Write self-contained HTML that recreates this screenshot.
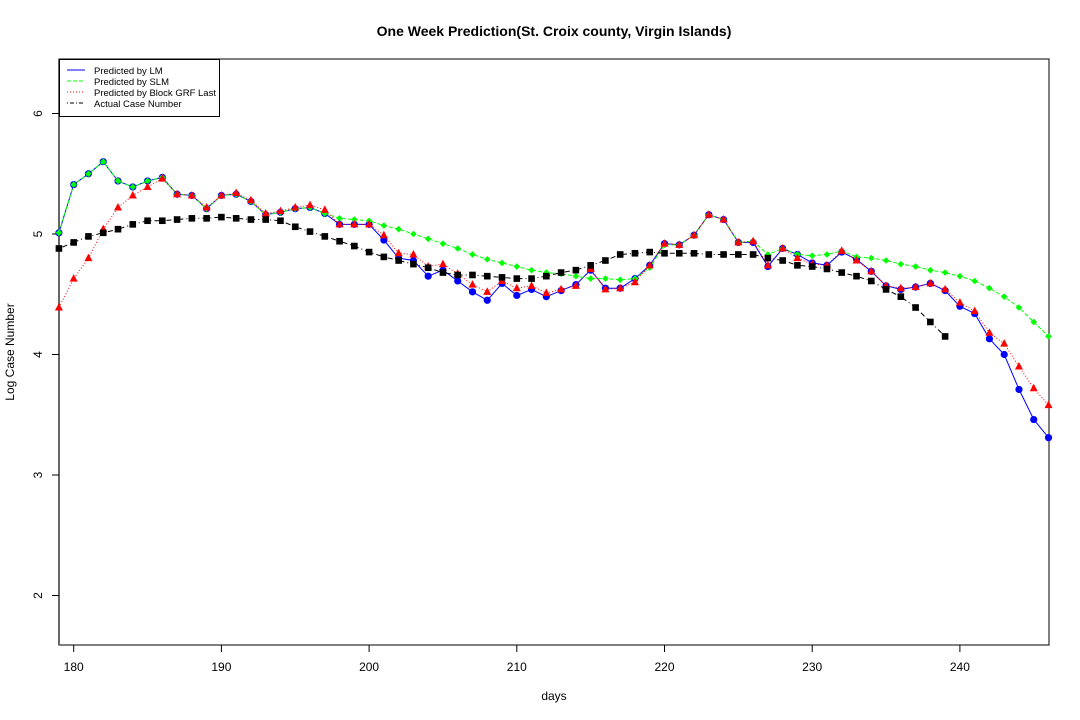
<!DOCTYPE html>
<html><head><meta charset="utf-8"><style>
body{margin:0;background:#fff}
svg{display:block;font-family:"Liberation Sans",sans-serif}
</style></head><body>
<svg id="chart" width="1080" height="720" viewBox="0 0 1080 720" xmlns="http://www.w3.org/2000/svg">
<rect width="1080" height="720" fill="#fff"/>
<text x="554" y="36" text-anchor="middle" font-size="14" font-weight="bold">One Week Prediction(St. Croix county, Virgin Islands)</text>
<text x="554" y="700" text-anchor="middle" font-size="12">days</text>
<text transform="translate(14,352) rotate(-90)" text-anchor="middle" font-size="12">Log Case Number</text>
<rect x="59" y="59" width="990" height="586" fill="none" stroke="#000" stroke-width="1"/>
<line x1="59" y1="59" x2="59" y2="645" stroke="#666" stroke-width="2"/>
<g id="axes"></g>
<g id="series"></g>
<g>
<rect x="59.5" y="59.5" width="160" height="57" fill="#fff" stroke="#000"/>
<line x1="67" y1="70" x2="85" y2="70" stroke="#0000ff"/>
<line x1="67" y1="81" x2="85" y2="81" stroke="#00ff00" stroke-dasharray="4,2"/>
<line x1="67" y1="92" x2="85" y2="92" stroke="#ff0000" stroke-dasharray="1,2"/>
<line x1="67" y1="103" x2="85" y2="103" stroke="#000" stroke-dasharray="1,2,4,2"/>
<text x="94" y="74" font-size="9.5">Predicted by LM</text>
<text x="94" y="85" font-size="9.5">Predicted by SLM</text>
<text x="94" y="96" font-size="9.5">Predicted by Block GRF Last</text>
<text x="94" y="107" font-size="9.5">Actual Case Number</text>
</g>
</svg>
<script>
const startDay = 179;
const xTicks = [180, 190, 200, 210, 220, 230, 240];
const yTicks = [2, 3, 4, 5, 6];
const lmValues = [5.01,5.41,5.50,5.60,5.44,5.39,5.44,5.47,5.33,5.32,5.21,5.32,5.33,5.27,5.16,5.18,5.21,5.22,5.17,5.08,5.08,5.08,4.95,4.80,4.78,4.65,4.70,4.61,4.52,4.45,4.59,4.49,4.54,4.48,4.53,4.58,4.70,4.55,4.55,4.63,4.74,4.92,4.91,4.99,5.16,5.12,4.93,4.93,4.73,4.88,4.83,4.76,4.74,4.85,4.79,4.69,4.57,4.54,4.56,4.59,4.53,4.40,4.34,4.13,4.00,3.71,3.46,3.31];
const slmValues = [5.01,5.41,5.50,5.60,5.44,5.39,5.44,5.47,5.33,5.32,5.21,5.32,5.33,5.27,5.16,5.18,5.21,5.22,5.17,5.13,5.12,5.11,5.07,5.04,5.00,4.96,4.92,4.88,4.83,4.79,4.76,4.73,4.70,4.68,4.67,4.65,4.63,4.63,4.62,4.63,4.72,4.91,4.91,4.99,5.16,5.12,4.93,4.94,4.83,4.88,4.83,4.82,4.83,4.86,4.81,4.80,4.78,4.75,4.73,4.70,4.68,4.65,4.61,4.55,4.48,4.39,4.27,4.15];
const grfValues = [4.39,4.63,4.80,5.04,5.22,5.32,5.39,5.46,5.33,5.32,5.22,5.32,5.34,5.28,5.17,5.19,5.22,5.24,5.20,5.08,5.08,5.08,4.99,4.84,4.83,4.73,4.75,4.67,4.58,4.52,4.61,4.55,4.57,4.51,4.54,4.57,4.71,4.54,4.55,4.60,4.74,4.92,4.91,4.99,5.16,5.12,4.93,4.94,4.74,4.88,4.80,4.75,4.74,4.86,4.78,4.69,4.57,4.55,4.56,4.59,4.54,4.43,4.36,4.18,4.09,3.90,3.72,3.58];
const actualValues = [4.88,4.93,4.98,5.01,5.04,5.08,5.11,5.11,5.12,5.13,5.13,5.14,5.13,5.12,5.12,5.11,5.06,5.02,4.98,4.94,4.90,4.85,4.81,4.78,4.75,4.72,4.68,4.66,4.66,4.65,4.64,4.63,4.63,4.65,4.68,4.70,4.74,4.78,4.83,4.84,4.85,4.84,4.84,4.84,4.83,4.83,4.83,4.83,4.80,4.78,4.74,4.73,4.71,4.68,4.65,4.61,4.54,4.48,4.39,4.27,4.15];

const NS = "http://www.w3.org/2000/svg";
function xs(d){ return 73.7 + (d - 180) * 14.77; }
function ys(v){ return 234 - (v - 5) * 120.5; }
function mk(tag, attrs, parent){ const e = document.createElementNS(NS, tag); for (const k in attrs) e.setAttribute(k, attrs[k]); parent.appendChild(e); return e; }

const axes = document.getElementById('axes');
xTicks.forEach(t => {
  const x = xs(t);
  const l = mk('line', {x1:x, y1:645, x2:x, y2:652, stroke:'#000'}, axes);
  
  
  const tx = mk('text', {x:x, y:671, 'text-anchor':'middle', 'font-size':12}, axes);
  tx.textContent = t;
  
  
});
yTicks.forEach(t => {
  const y = ys(t);
  const l = mk('line', {x1:52, y1:y, x2:59, y2:y, stroke:'#000'}, axes);
  
  
  const tx = mk('text', {transform:`translate(42,${y}) rotate(-90)`, 'text-anchor':'middle', 'font-size':12}, axes);
  tx.textContent = t;
  
  
});

const series = document.getElementById('series');
function drawLine(vals, color, dash, name){
  const pts = vals.map((v,i)=>xs(startDay+i).toFixed(1)+','+ys(v).toFixed(1)).join(' ');
  const p = mk('polyline', {points:pts, fill:'none', stroke:color, 'stroke-width':1, 'stroke-dasharray':dash}, series);
  
  
}
function drawPts(vals, shape, color, name){
  const g = mk('g', {}, series);
  
  
  vals.forEach((v,i)=>{
    const x = xs(startDay+i), y = ys(v);
    if (shape==='circle') mk('circle', {cx:x, cy:y, r:3.6, fill:color}, g);
    else if (shape==='diamond') mk('polygon', {points:`${x},${y-3.3} ${x+3.3},${y} ${x},${y+3.3} ${x-3.3},${y}`, fill:color}, g);
    else if (shape==='tri') mk('polygon', {points:`${x},${y-4.5} ${x+4},${y+3} ${x-4},${y+3}`, fill:color}, g);
    else mk('rect', {x:x-3.3, y:y-3.3, width:6.6, height:6.6, fill:color}, g);
  });
}
drawLine(lmValues, '#0000ff', 'none', 'lm');
drawPts(lmValues, 'circle', '#0000ff', 'lm');
drawLine(slmValues, '#00ff00', '4,2', 'slm');
drawPts(slmValues, 'diamond', '#00ff00', 'slm');
drawLine(grfValues, '#ff0000', '1,2', 'grf');
drawPts(grfValues, 'tri', '#ff0000', 'grf');
drawLine(actualValues, '#000', '1,3,5,3', 'actual');
drawPts(actualValues, 'square', '#000', 'actual');
</script>
</body></html>
